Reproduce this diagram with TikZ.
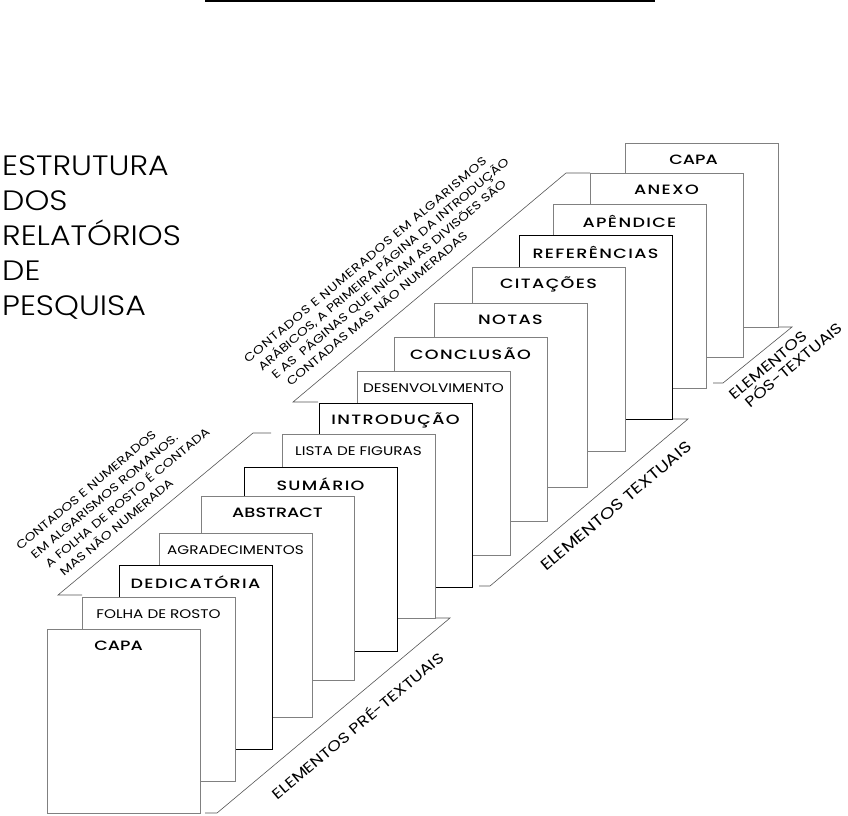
\documentclass[tikz,border=0pt]{standalone}
\usepackage{fontspec}
\setmainfont{Poppins}[FakeStretch=1.22]
\newfontfamily\titlefont{Poppins Light}[FakeStretch=1.13]
\newfontfamily\tagfont{Poppins Medium}[FakeStretch=1.3,LetterSpace=10]
\usetikzlibrary{positioning,calc}
\definecolor{pageline}{HTML}{808080}
\definecolor{leadline}{HTML}{555555}

\begin{document}
\begin{tikzpicture}[x=1pt,y=-1pt,
  pg/.style={draw=pageline,fill=white,line width=0.9pt,minimum width=153pt,
    minimum height=184pt,anchor=north west,inner sep=0pt,outer sep=0pt},
  pgdark/.style={pg,draw=black},
  tag/.style={anchor=center,yshift=-17pt,font=\fontsize{12.5}{14}\selectfont},
  tagbold/.style={tag,font=\tagfont\fontsize{13.5}{15}\selectfont},
  tagtight/.style={tag,font=\tagfont\addfontfeature{LetterSpace=0}\fontsize{13.5}{15}\selectfont},
  leader/.style={draw=leadline,line width=0.6pt},
  note/.style={rotate=40,align=left,inner sep=0pt,font=\fontsize{11.5}{16}\selectfont},
  group/.style={rotate=40,align=left,inner sep=0pt,font=\fontsize{14.5}{17}\selectfont}]
\useasboundingbox (0,0) rectangle (848,815);

% header rule
\coordinate (hr1) at (205,1);
\coordinate (hr2) at (655,1);
\draw[line width=2pt] (hr1) -- (hr2);

% title
\node[anchor=north west,align=left,inner sep=0pt,
  font=\titlefont\fontsize{28}{35}\selectfont] (titulo) at (2,155)
  {ESTRUTURA\\DOS\\RELATÓRIOS\\DE\\PESQUISA};

% leader lines
\coordinate (pu1) at (82,595);  \coordinate (pu2) at (58,595);
\coordinate (pu3) at (253,433); \coordinate (pu4) at (271,433);
\draw[leader] (pu1) -- (pu2) -- (pu3) -- (pu4);
\coordinate (pl1) at (205,813); \coordinate (pl2) at (217,813);
\coordinate (pl3) at (450,618); \coordinate (pl4) at (434,618);
\draw[leader] (pl1) -- (pl2) -- (pl3) -- (pl4);
\coordinate (tu1) at (318,402); \coordinate (tu2) at (293,402);
\coordinate (tu3) at (566,173); \coordinate (tu4) at (590,173);
\draw[leader] (tu1) -- (tu2) -- (tu3) -- (tu4);
\coordinate (tl1) at (479,586); \coordinate (tl2) at (490,586);
\coordinate (tl3) at (688,419); \coordinate (tl4) at (673,419);
\draw[leader] (tl1) -- (tl2) -- (tl3) -- (tl4);
\coordinate (ppl1) at (713,383); \coordinate (ppl2) at (723,383);
\coordinate (ppl3) at (792,327); \coordinate (ppl4) at (779,327);
\draw[leader] (ppl1) -- (ppl2) -- (ppl3) -- (ppl4);

% pages, back to front
\node[pg,label={[tagtight,xshift=-8pt]north:CAPA}] (capaB) at (625,143) {};
\node[pg,label={[tagbold]north:ANEXO}] (anexo) at (590,173) {};
\node[pg,label={[tagbold]north:APÊNDICE}] (apendice) at (553,204) {};
\node[pgdark,label={[tagbold]north:REFERÊNCIAS}] (refs) at (519,235) {};
\node[pg,label={[tagbold]north:CITAÇÕES}] (citacoes) at (472,267) {};
\node[pg,label={[tagbold]north:NOTAS}] (notas) at (434,303) {};
\node[pg,label={[tagbold]north:CONCLUSÃO}] (conclusao) at (394,337) {};
\node[pg,label={[tag]north:DESENVOLVIMENTO}] (desenv) at (357,371) {};
\node[pgdark,label={[tagbold]north:INTRODUÇÃO}] (intro) at (319,403) {};
\node[pg,label={[tag]north:LISTA DE FIGURAS}] (lista) at (282,434) {};
\node[pgdark,label={[tagbold]north:SUMÁRIO}] (sumario) at (244,467) {};
\node[pg,label={[tagtight]north:ABSTRACT}] (abstract) at (201,496) {};
\node[pg,label={[tag]north:AGRADECIMENTOS}] (agrad) at (159,533) {};
\node[pgdark,label={[tagbold]north:DEDICATÓRIA}] (dedic) at (119,565) {};
\node[pg,label={[tag]north:FOLHA DE ROSTO}] (folha) at (82,597) {};
\node[pg,label={[tagtight,xshift=-5pt]north:CAPA}] (capaF) at (47,629) {};

% rotated notes
\node[note] (notaPre) at (118,495)
  {CONTADOS E NUMERADOS\\\hspace*{6pt}EM ALGARISMOS ROMANOS.\\
   \hspace*{11pt}A FOLHA DE ROSTO É CONTADA\\\hspace*{17pt}MAS NÃO NUMERADA};
\node[note,font=\fontsize{11.5}{15}\selectfont] (notaTxt) at (386,272)
  {{\addfontfeature{LetterSpace=6}CONTADOS E NUMERADOS EM ALGARISMOS}\\
   \hspace*{6pt}ARÁBICOS, A PRIMEIRA PÁGINA DA INTRODUÇÃO\\
   \hspace*{11pt}E AS\ \ PÁGINAS QUE INICIAM AS DIVISÕES SÃO\\
   \hspace*{18pt}CONTADAS MAS NÃO NUMERADAS};

% group names
\node[group] (grpPre) at (357,725) {ELEMENTOS PRÉ-TEXTUAIS};
\node[group,font=\fontsize{15.5}{17}\selectfont] (grpTxt) at (616,506) {ELEMENTOS TEXTUAIS};
\node[group,font=\fontsize{14.5}{16}\selectfont] (grpPos) at (786,361)
  {ELEMENTOS\\\hspace*{7pt}PÓS-TEXTUAIS};
\end{tikzpicture}
\end{document}
